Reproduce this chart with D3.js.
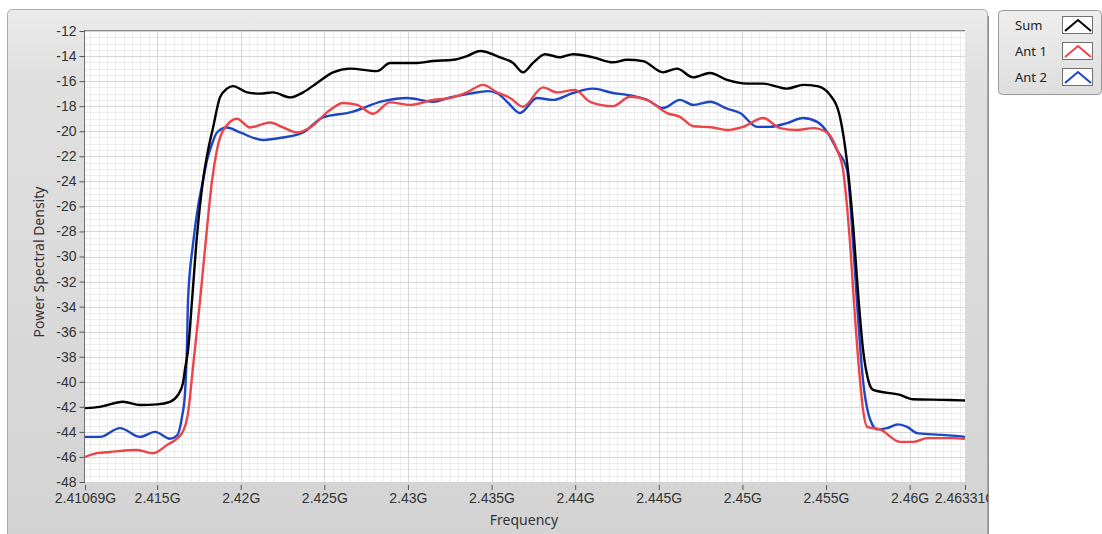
<!DOCTYPE html>
<html>
<head>
<meta charset="utf-8">
<script src="https://cdn.jsdelivr.net/npm/d3@7"></script>
<style>
  html, body { margin: 0; padding: 0; background: #ffffff; }
  svg { display: block; font-family: "Noto Sans", "Open Sans", sans-serif; }
</style>
</head>
<body>
<svg id="chart" width="1102" height="534"></svg>
<script>
// Frequency in GHz, power spectral density in dB
const sumFreq = [2.41069, 2.41159, 2.41296, 2.41398, 2.41500, 2.41577, 2.41625, 2.41655, 2.41667, 2.41685, 2.41709, 2.41739, 2.41775, 2.41805, 2.41835, 2.41876, 2.41918, 2.41954, 2.42038, 2.42116, 2.42193, 2.42295, 2.42373, 2.42456, 2.42552, 2.42654, 2.42815, 2.42893, 2.43055, 2.43150, 2.43270, 2.43353, 2.43431, 2.43551, 2.43629, 2.43688, 2.43748, 2.43820, 2.43910, 2.43987, 2.44107, 2.44226, 2.44310, 2.44406, 2.44525, 2.44609, 2.44705, 2.44807, 2.44908, 2.45028, 2.45124, 2.45267, 2.45363, 2.45447, 2.45524, 2.45584, 2.45626, 2.45662, 2.45692, 2.45722, 2.45752, 2.45782, 2.45943, 2.46020, 2.46242, 2.46331];
const sumPsd  = [-42.1, -42.0, -41.6, -41.85, -41.8, -41.6, -41.05, -40.1, -39.0, -37.5, -33.5, -28.3, -23.9, -21.5, -19.7, -17.3, -16.6, -16.4, -16.9, -17.0, -16.9, -17.3, -16.9, -16.15, -15.3, -15.0, -15.2, -14.55, -14.55, -14.4, -14.3, -14.0, -13.6, -14.1, -14.55, -15.3, -14.55, -13.85, -14.1, -13.85, -14.1, -14.5, -14.3, -14.4, -15.3, -15.0, -15.7, -15.35, -15.9, -16.2, -16.2, -16.6, -16.3, -16.4, -17.1, -18.9, -22.5, -27.5, -33.0, -37.5, -39.85, -40.65, -41.05, -41.4, -41.45, -41.5];

const ant1Freq = [2.41069, 2.41141, 2.41219, 2.41380, 2.41476, 2.41559, 2.41649, 2.41685, 2.41715, 2.41757, 2.41793, 2.41829, 2.41858, 2.41918, 2.41978, 2.42056, 2.42176, 2.42253, 2.42337, 2.42415, 2.42534, 2.42612, 2.42696, 2.42791, 2.42893, 2.43013, 2.43150, 2.43252, 2.43353, 2.43449, 2.43533, 2.43611, 2.43688, 2.43808, 2.43892, 2.43999, 2.44089, 2.44226, 2.44328, 2.44430, 2.44549, 2.44627, 2.44705, 2.44824, 2.44908, 2.45004, 2.45124, 2.45225, 2.45327, 2.45423, 2.45506, 2.45566, 2.45602, 2.45644, 2.45674, 2.45704, 2.45722, 2.45746, 2.45823, 2.45943, 2.46020, 2.46104, 2.46260, 2.46331];
const ant1Psd  = [-46.0, -45.7, -45.6, -45.45, -45.7, -45.05, -44.1, -42.5, -38.8, -33.5, -28.5, -23.9, -21.5, -19.5, -19.0, -19.7, -19.3, -19.7, -20.1, -19.7, -18.3, -17.75, -17.9, -18.6, -17.7, -17.9, -17.5, -17.35, -16.9, -16.3, -16.9, -17.35, -18.05, -16.5, -16.9, -16.7, -17.65, -18.0, -17.25, -17.5, -18.55, -18.85, -19.6, -19.7, -19.9, -19.65, -18.95, -19.75, -19.9, -19.75, -20.1, -21.5, -23.1, -29.0, -35.0, -40.0, -42.3, -43.6, -43.8, -44.8, -44.8, -44.5, -44.5, -44.55];

const ant2Freq = [2.41069, 2.41159, 2.41278, 2.41398, 2.41488, 2.41577, 2.41619, 2.41649, 2.41667, 2.41679, 2.41685, 2.41715, 2.41745, 2.41775, 2.41799, 2.41829, 2.41858, 2.41918, 2.41996, 2.42134, 2.42253, 2.42373, 2.42492, 2.42654, 2.42851, 2.42995, 2.43150, 2.43252, 2.43371, 2.43479, 2.43539, 2.43593, 2.43670, 2.43772, 2.43868, 2.43987, 2.44107, 2.44226, 2.44310, 2.44430, 2.44525, 2.44627, 2.44705, 2.44807, 2.44908, 2.44986, 2.45088, 2.45165, 2.45267, 2.45363, 2.45447, 2.45506, 2.45566, 2.45626, 2.45662, 2.45692, 2.45722, 2.45752, 2.45776, 2.45806, 2.45865, 2.45931, 2.45985, 2.46044, 2.46140, 2.46260, 2.46331];
const ant2Psd  = [-44.4, -44.4, -43.7, -44.4, -44.0, -44.55, -44.3, -42.8, -40.9, -37.0, -33.5, -29.0, -26.0, -23.9, -22.3, -21.0, -20.1, -19.7, -20.1, -20.7, -20.5, -20.1, -18.9, -18.5, -17.6, -17.35, -17.65, -17.3, -17.0, -16.8, -17.0, -17.65, -18.55, -17.35, -17.5, -16.95, -16.6, -16.95, -17.1, -17.5, -18.15, -17.5, -17.9, -17.65, -18.2, -18.55, -19.65, -19.65, -19.35, -18.95, -19.25, -20.05, -21.5, -23.1, -29.0, -35.0, -40.0, -42.5, -43.4, -43.8, -43.7, -43.4, -43.6, -44.1, -44.2, -44.3, -44.4];

const seriesNames  = ["Sum", "Ant 1", "Ant 2"];
const seriesColors = ["#000000", "#ec4448", "#1c46c6"];

const xTickValues = [2.41069, 2.415, 2.42, 2.425, 2.43, 2.435, 2.44, 2.445, 2.45, 2.455, 2.46, 2.46331];
const xTickLabels = ["2.41069G", "2.415G", "2.42G", "2.425G", "2.43G", "2.435G", "2.44G", "2.445G", "2.45G", "2.455G", "2.46G", "2.46331G"];
const yTickValues = [-12, -14, -16, -18, -20, -22, -24, -26, -28, -30, -32, -34, -36, -38, -40, -42, -44, -46, -48];
const xTitle = "Frequency";
const yTitle = "Power Spectral Density";

const series = [
  { name: seriesNames[0], color: seriesColors[0], points: sumFreq.map((f, i) => [f, sumPsd[i]]) },
  { name: seriesNames[1], color: seriesColors[1], points: ant1Freq.map((f, i) => [f, ant1Psd[i]]) },
  { name: seriesNames[2], color: seriesColors[2], points: ant2Freq.map((f, i) => [f, ant2Psd[i]]) }
];

const svg = d3.select("#chart");
const plot = { left: 85, right: 965, top: 31, bottom: 482 };

const x = d3.scaleLinear().domain([2.41069, 2.46331]).range([plot.left, plot.right]);
const y = d3.scaleLinear().domain([-12, -48]).range([plot.top, plot.bottom]);

const defs = svg.append("defs");
const panelGrad = defs.append("linearGradient").attr("id", "panelGrad")
  .attr("x1", 0).attr("y1", 0).attr("x2", 0).attr("y2", 1);
panelGrad.append("stop").attr("offset", "0%").attr("stop-color", "#ebebeb");
panelGrad.append("stop").attr("offset", "12%").attr("stop-color", "#e0e0e0");
panelGrad.append("stop").attr("offset", "100%").attr("stop-color", "#d3d3d3");

const legendGrad = defs.append("linearGradient").attr("id", "legendGrad")
  .attr("x1", 0).attr("y1", 0).attr("x2", 0).attr("y2", 1);
legendGrad.append("stop").attr("offset", "0%").attr("stop-color", "#eeeeee");
legendGrad.append("stop").attr("offset", "100%").attr("stop-color", "#dedede");

defs.append("clipPath").attr("id", "plotClip").append("rect")
  .attr("x", plot.left).attr("y", plot.top)
  .attr("width", plot.right - plot.left).attr("height", plot.bottom - plot.top);
defs.append("clipPath").attr("id", "panelClip").append("rect")
  .attr("x", 0).attr("y", 0).attr("width", 988).attr("height", 534);

// Graph panel
svg.append("rect")
  .attr("x", 7.5).attr("y", 9.5).attr("width", 980).attr("height", 540)
  .attr("rx", 5).attr("ry", 5)
  .attr("fill", "url(#panelGrad)")
  .attr("stroke", "#a9a9a9");
svg.append("line")
  .attr("x1", 988.5).attr("x2", 988.5).attr("y1", 16).attr("y2", 534)
  .attr("stroke", "#8c8c8c");

const panel = svg.append("g").attr("clip-path", "url(#panelClip)");

// Plot background
panel.append("rect")
  .attr("x", plot.left).attr("y", plot.top)
  .attr("width", plot.right - plot.left).attr("height", plot.bottom - plot.top)
  .attr("fill", "#ffffff");

// Grid: minor lines every 0.0005 GHz / 0.5 dB, major at the tick spacing
const grid = panel.append("g");
const minorX = d3.range(Math.ceil(2.41069 / 0.0005), Math.floor(2.46331 / 0.0005) + 1).map(k => k * 0.0005);
const minorY = d3.range(-96, -23).map(k => k * 0.5);
grid.selectAll("line.mx").data(minorX).join("line")
  .attr("x1", d => Math.round(x(d)) + 0.5).attr("x2", d => Math.round(x(d)) + 0.5)
  .attr("y1", plot.top).attr("y2", plot.bottom)
  .attr("stroke", "#ececec");
grid.selectAll("line.my").data(minorY).join("line")
  .attr("y1", d => Math.round(y(d)) + 0.5).attr("y2", d => Math.round(y(d)) + 0.5)
  .attr("x1", plot.left).attr("x2", plot.right)
  .attr("stroke", "#ececec");
grid.selectAll("line.MX").data(xTickValues.slice(1, -1)).join("line")
  .attr("x1", d => Math.round(x(d)) + 0.5).attr("x2", d => Math.round(x(d)) + 0.5)
  .attr("y1", plot.top).attr("y2", plot.bottom)
  .attr("stroke", "#d6d6d6");
grid.selectAll("line.MY").data(yTickValues).join("line")
  .attr("y1", d => Math.round(y(d)) + 0.5).attr("y2", d => Math.round(y(d)) + 0.5)
  .attr("x1", plot.left).attr("x2", plot.right)
  .attr("stroke", "#d6d6d6");

// Traces
const line = d3.line().x(d => x(d[0])).y(d => y(d[1])).curve(d3.curveMonotoneX);
panel.append("g").attr("clip-path", "url(#plotClip)")
  .selectAll("path").data(series.slice().reverse()).join("path")
  .attr("d", d => line(d.points))
  .attr("fill", "none")
  .attr("stroke", d => d.color)
  .attr("stroke-width", 2.4)
  .attr("stroke-linejoin", "round");

// Plot frame (top edge)
panel.append("line").attr("x1", plot.left).attr("x2", plot.right)
  .attr("y1", plot.top - 0.5).attr("y2", plot.top - 0.5).attr("stroke", "#8a8a8a");

// Axes
const yAxis = panel.append("g")
  .attr("transform", `translate(${plot.left - 0.5},0)`)
  .call(d3.axisLeft(y).tickValues(yTickValues).tickFormat(d => String(d)).tickSize(5).tickPadding(3));
yAxis.select(".domain").attr("stroke", "#6e6e6e").attr("d", `M0,${plot.top - 1}V${plot.bottom + 1}`);
yAxis.selectAll(".tick line").attr("stroke", "#555");
yAxis.selectAll(".tick text").attr("fill", "#333").style("font-size", "14px");

const xAxis = panel.append("g")
  .attr("transform", `translate(0,${plot.bottom + 3})`)
  .call(d3.axisBottom(x).tickValues(xTickValues).tickFormat((d, i) => xTickLabels[i]).tickSize(5).tickPadding(3));
xAxis.select(".domain").remove();
xAxis.selectAll(".tick line").attr("stroke", "#555");
xAxis.selectAll(".tick text").attr("fill", "#333").style("font-size", "14px");

// Axis titles
panel.append("text")
  .attr("x", 524).attr("y", 525)
  .attr("text-anchor", "middle").attr("fill", "#333").style("font-size", "14px")
  .text(xTitle);
panel.append("text")
  .attr("transform", "translate(44,262) rotate(-90)")
  .attr("text-anchor", "middle").attr("fill", "#333").style("font-size", "14px")
  .text(yTitle);

// Legend
const legend = svg.append("g");
legend.append("rect")
  .attr("x", 998.5).attr("y", 10.5).attr("width", 103).attr("height", 84)
  .attr("rx", 4).attr("ry", 4)
  .attr("fill", "url(#legendGrad)").attr("stroke", "#9a9a9a");
const rows = legend.selectAll("g.row").data(series).join("g")
  .attr("transform", (d, i) => `translate(0,${i * 26})`);
rows.append("text")
  .attr("x", 1015).attr("y", 30)
  .attr("fill", "#222").style("font-size", "13px")
  .text(d => d.name);
rows.append("rect")
  .attr("x", 1062.5).attr("y", 16.5).attr("width", 30).attr("height", 17)
  .attr("fill", "#ffffff").attr("stroke", "#707070");
rows.append("path")
  .attr("d", "M1065,31L1078,20L1091,31")
  .attr("fill", "none").attr("stroke", d => d.color).attr("stroke-width", 2);
</script>
</body>
</html>
